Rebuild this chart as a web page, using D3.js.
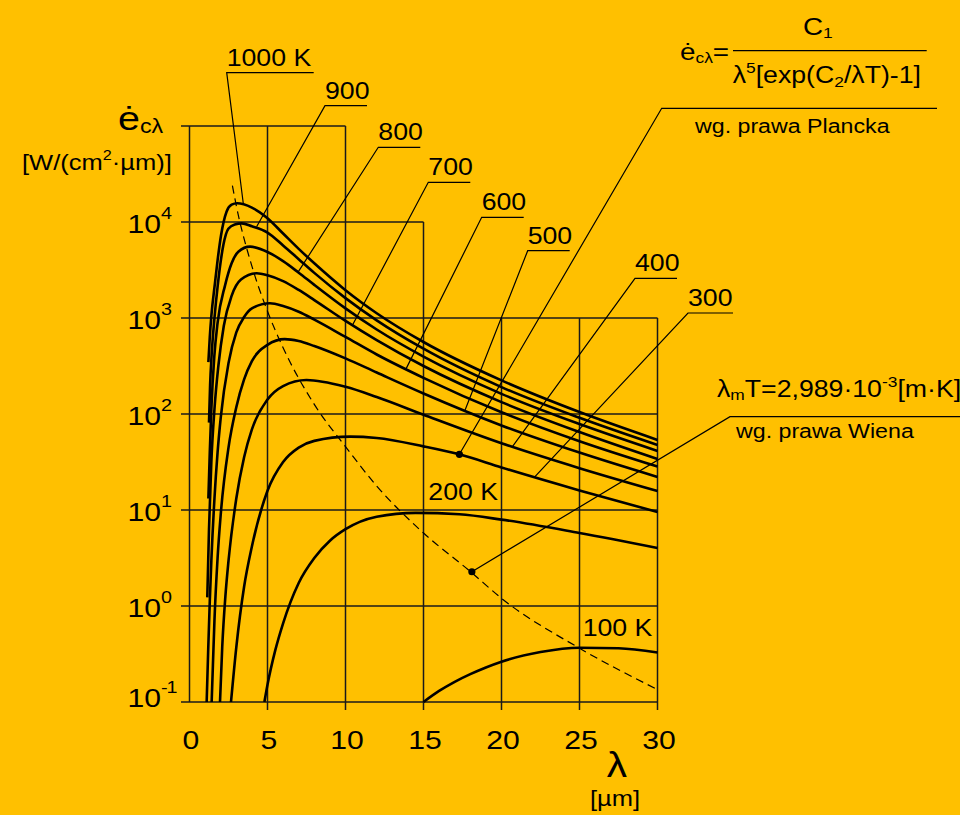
<!DOCTYPE html>
<html lang="pl">
<head>
<meta charset="utf-8">
<title>Planck</title>
<script src="https://d3js.org/d3.v7.min.js"></script>
<style>
body { margin: 0; background: #FFC000; }
text { font-family: "Liberation Sans", Arial, sans-serif; fill: #000; }
</style>
</head>
<body>
<div id="chart"></div>
<script>
// wavelength ticks [um] and decade exponents of the y axis
var lambdaTicks = [0, 5, 10, 15, 20, 25, 30];
var decades = [-1, 0, 1, 2, 3, 4];

// curves: [lambda um, log10 of e]
var t1000 = [[1.21,2.54],[1.3,2.8],[1.4,3.02],[1.63,3.36],[1.8,3.6],[2.02,3.86],[2.38,4.11],[2.7,4.18],[3.05,4.195],[4,4.15],[5,4.04],[6,3.88],[7,3.72],[8,3.57],[10,3.29],[12,3.05],[15,2.75],[20,2.35],[25,2.02],[30,1.73]];
var t900 = [[1.25,1.91],[1.32,2.3],[1.42,2.62],[1.6,3.0],[1.81,3.34],[2.17,3.76],[2.49,3.93],[2.9,3.975],[3.35,3.986],[4,3.955],[5,3.89],[6,3.756],[7,3.613],[8,3.47],[10,3.207],[12,2.976],[15,2.68],[20,2.28],[25,1.96],[30,1.677]];
var t800 = [[1.21,1.12],[1.3,1.6],[1.4,2.05],[1.59,2.6],[1.8,2.95],[2.28,3.34],[2.7,3.57],[3.13,3.69],[3.88,3.743],[5,3.688],[6,3.592],[7,3.472],[8,3.345],[10,3.1],[12,2.88],[15,2.598],[20,2.21],[25,1.895],[30,1.615]];
var t700 = [[1.14,0.09],[1.25,0.8],[1.4,1.5],[1.6,2.05],[1.85,2.5],[2.2,2.92],[2.7,3.23],[3.3,3.4],[4.31,3.466],[5,3.445],[6,3.384],[7,3.292],[8,3.187],[10,2.97],[12,2.77],[15,2.5],[20,2.124],[25,1.812],[30,1.531]];
var t600 = [[1.1,-1],[1.2,-0.45],[1.3,0.05],[1.4,0.47],[1.6,1.12],[1.8,1.6],[2,1.96],[2.5,2.53],[3,2.85],[3.5,3.01],[4,3.1],[5.16,3.153],[6,3.125],[7,3.065],[8,2.983],[10,2.803],[12,2.62],[15,2.377],[20,2.018],[25,1.716],[30,1.452]];
var t500 = [[1.42,-1],[1.5,-0.62],[1.6,-0.15],[1.8,0.5],[2,0.95],[2.5,1.65],[3,2.07],[3.5,2.36],[4,2.55],[5,2.72],[6.1,2.78],[7,2.76],[8,2.708],[10,2.579],[12,2.432],[15,2.214],[20,1.881],[25,1.598],[30,1.344]];
var t400 = [[1.955,-1],[2.1,-0.42],[2.3,0.1],[2.5,0.47],[3,1.12],[3.5,1.55],[4,1.84],[5,2.15],[6,2.29],[7.5,2.354],[10,2.283],[12,2.177],[15,1.993],[20,1.696],[25,1.436],[30,1.198]];
var t300 = [[2.66,-1],[3,-0.43],[3.5,0.2],[4,0.62],[5,1.2],[6,1.5],[7,1.65],[8,1.72],[10.3,1.764],[12,1.75],[15,1.663],[17.3,1.58],[20,1.443],[25,1.204],[30,0.979]];
var t200 = [[4.8,-1],[5,-0.82],[5.5,-0.46],[6,-0.18],[7,0.24],[8,0.5],[9,0.68],[10,0.8],[12,0.93],[14.5,0.97],[17.3,0.955],[20,0.9],[25,0.76],[30,0.604]];
var t100 = [[15,-1],[16,-0.885],[17,-0.79],[18,-0.71],[19,-0.64],[20,-0.58],[22.5,-0.48],[25,-0.435],[27.5,-0.44],[30,-0.485]];
var curves = [t1000, t900, t800, t700, t600, t500, t400, t300, t200, t100];

// dashed line of the maxima (Wien)
var wien = [[2.75,4.38],[3,4.17],[4,3.54],[5,3.07],[6,2.69],[8,2.1],[10,1.66],[12,1.25],[15,0.76],[18,0.36],[20,0.08],[25,-0.44],[30,-0.87]];

// points marked with a dot
var planckDot = [17.3, 1.58];
var wienDot = [18.1, 0.357];

var W = 960, H = 815, SX = 1.16;

var svg = d3.select("#chart").append("svg")
  .attr("width", W).attr("height", H);
svg.append("rect").attr("width", W).attr("height", H).attr("fill", "#FFC000");

var x = d3.scaleLinear().domain([0, 30]).range([189.5, 657.5]);
var y = d3.scaleLog().domain([0.1, 1e5]).range([702, 126]);
function yl(v) { return y(Math.pow(10, v)); }

// stepped grid
var rowEnd = {"-1": 30, "0": 30, "1": 30, "2": 30, "3": 30, "4": 15, "5": 10};
var colTop = {0: 5, 5: 5, 10: 5, 15: 4, 20: 3, 25: 3, 30: 3};
var grid = svg.append("g").attr("stroke", "#1a1a1a").attr("stroke-width", 1.5);
d3.range(-1, 6).forEach(function(d) {
  grid.append("line")
    .attr("x1", x(0) - 8.5).attr("x2", x(rowEnd[d]))
    .attr("y1", yl(d)).attr("y2", yl(d));
});
lambdaTicks.forEach(function(l) {
  grid.append("line")
    .attr("x1", x(l)).attr("x2", x(l))
    .attr("y1", yl(colTop[l])).attr("y2", yl(-1) + (l == 0 ? 0 : 8));
});

function txt(px, py, size, anchor) {
  return svg.append("text")
    .attr("transform", "translate(" + px + "," + py + ") scale(" + SX + ",1)")
    .attr("font-size", size)
    .attr("text-anchor", anchor || "start");
}

// y tick labels
decades.forEach(function(d) {
  var t = txt(127.5, yl(d) + (d == -1 ? 4.5 : 10.5), 26);
  t.append("tspan").text("10");
  t.append("tspan").attr("font-size", 17).attr("dy", -14)
    .attr("letter-spacing", d < 0 ? -1 : 0).text(d);
});

// x tick labels
lambdaTicks.forEach(function(l) {
  txt(x(l) + 1.5, 749, 26, "middle").text(l);
});

// curves
var line = d3.line()
  .x(function(d) { return x(d[0]); })
  .y(function(d) { return yl(d[1]); })
  .curve(d3.curveMonotoneX);
svg.append("g").selectAll("path").data(curves).enter().append("path")
  .attr("d", line)
  .attr("fill", "none")
  .attr("stroke", "#000")
  .attr("stroke-width", 2.6);

svg.append("path").datum(wien)
  .attr("d", line)
  .attr("fill", "none")
  .attr("stroke", "#000")
  .attr("stroke-width", 1.2)
  .attr("stroke-dasharray", "8,5");

// curve labels with leaders
var leaders = [
  {t: "1000 K", lx: 226.7, ly: 72.7, w: 87, to: [3.45, 4.19]},
  {t: "900", lx: 325, ly: 105.7, w: 42, to: [4.3, 3.95]},
  {t: "800", lx: 378.3, ly: 147.3, w: 42, to: [6.97, 3.48]},
  {t: "700", lx: 428.3, ly: 182.3, w: 42, to: [10.46, 2.93]},
  {t: "600", lx: 481.7, ly: 217.3, w: 42, to: [13.88, 2.47]},
  {t: "500", lx: 527.7, ly: 250.7, w: 42, to: [17.66, 2.04]},
  {t: "400", lx: 635, ly: 278.3, w: 42, to: [20.7, 1.66]},
  {t: "300", lx: 688, ly: 313, w: 45, to: [22.1, 1.34]}
];
var lead = svg.append("g").attr("stroke", "#000").attr("stroke-width", 1.2).attr("fill", "none");
leaders.forEach(function(a) {
  lead.append("polyline").attr("points",
    [[a.lx + a.w, a.ly], [a.lx, a.ly], [x(a.to[0]), yl(a.to[1])]].join(" "));
  txt(a.lx, a.ly - 7, 23).text(a.t);
});

txt(428.3, 500, 23).text("200 K");
txt(582.7, 635.7, 23).text("100 K");

// Planck formula note
lead.append("polyline").attr("points",
  [[x(planckDot[0]), yl(planckDot[1])], [661.7, 108.3], [937, 108.3]].join(" "));
svg.append("circle").attr("cx", x(planckDot[0])).attr("cy", yl(planckDot[1])).attr("r", 3.6);
txt(695, 133.3, 20).text("wg. prawa Plancka");

var f = txt(680, 60, 24);
f.append("tspan").text("ė");
f.append("tspan").attr("font-size", 15).attr("dy", 3).text("cλ");
f.append("tspan").attr("dy", -3).text("=");
lead.append("line").attr("x1", 733).attr("x2", 926.7).attr("y1", 50.7).attr("y2", 50.7);
var num = txt(803, 35, 24);
num.append("tspan").text("C");
num.append("tspan").attr("font-size", 15).attr("dy", 3).text("1");
var den = txt(732.7, 83.3, 23);
den.append("tspan").text("λ");
den.append("tspan").attr("font-size", 15).attr("dy", -10).text("5");
den.append("tspan").attr("dy", 10).text("[exp(C");
den.append("tspan").attr("font-size", 15).attr("dy", 4).text("2");
den.append("tspan").attr("dy", -4).text("/λT)-1]");

// Wien note
lead.append("polyline").attr("points",
  [[x(wienDot[0]), yl(wienDot[1])], [730, 416.7], [960, 416.7]].join(" "));
svg.append("circle").attr("cx", x(wienDot[0])).attr("cy", yl(wienDot[1])).attr("r", 3.6);
var wt = txt(717, 397.3, 23);
wt.append("tspan").text("λ");
wt.append("tspan").attr("font-size", 15).attr("dy", 3).text("m");
wt.append("tspan").attr("dy", -3).text("T=2,989·10");
wt.append("tspan").attr("font-size", 15).attr("dy", -10).text("-3");
wt.append("tspan").attr("dy", 10).text("[m·K]");
txt(736, 438.3, 20).text("wg. prawa Wiena");

// axis titles
var ya = txt(118, 130, 34);
ya.append("tspan").text("ė");
ya.append("tspan").attr("font-size", 20).attr("dy", 3).text("cλ");
var yu = txt(22, 170, 22);
yu.append("tspan").text("[W/(cm");
yu.append("tspan").attr("font-size", 14).attr("dy", -10).text("2");
yu.append("tspan").attr("dy", 10).text("·µm)]");
txt(617, 777, 35, "middle").text("λ");
txt(615, 806, 22, "middle").text("[µm]");
</script>
</body>
</html>
